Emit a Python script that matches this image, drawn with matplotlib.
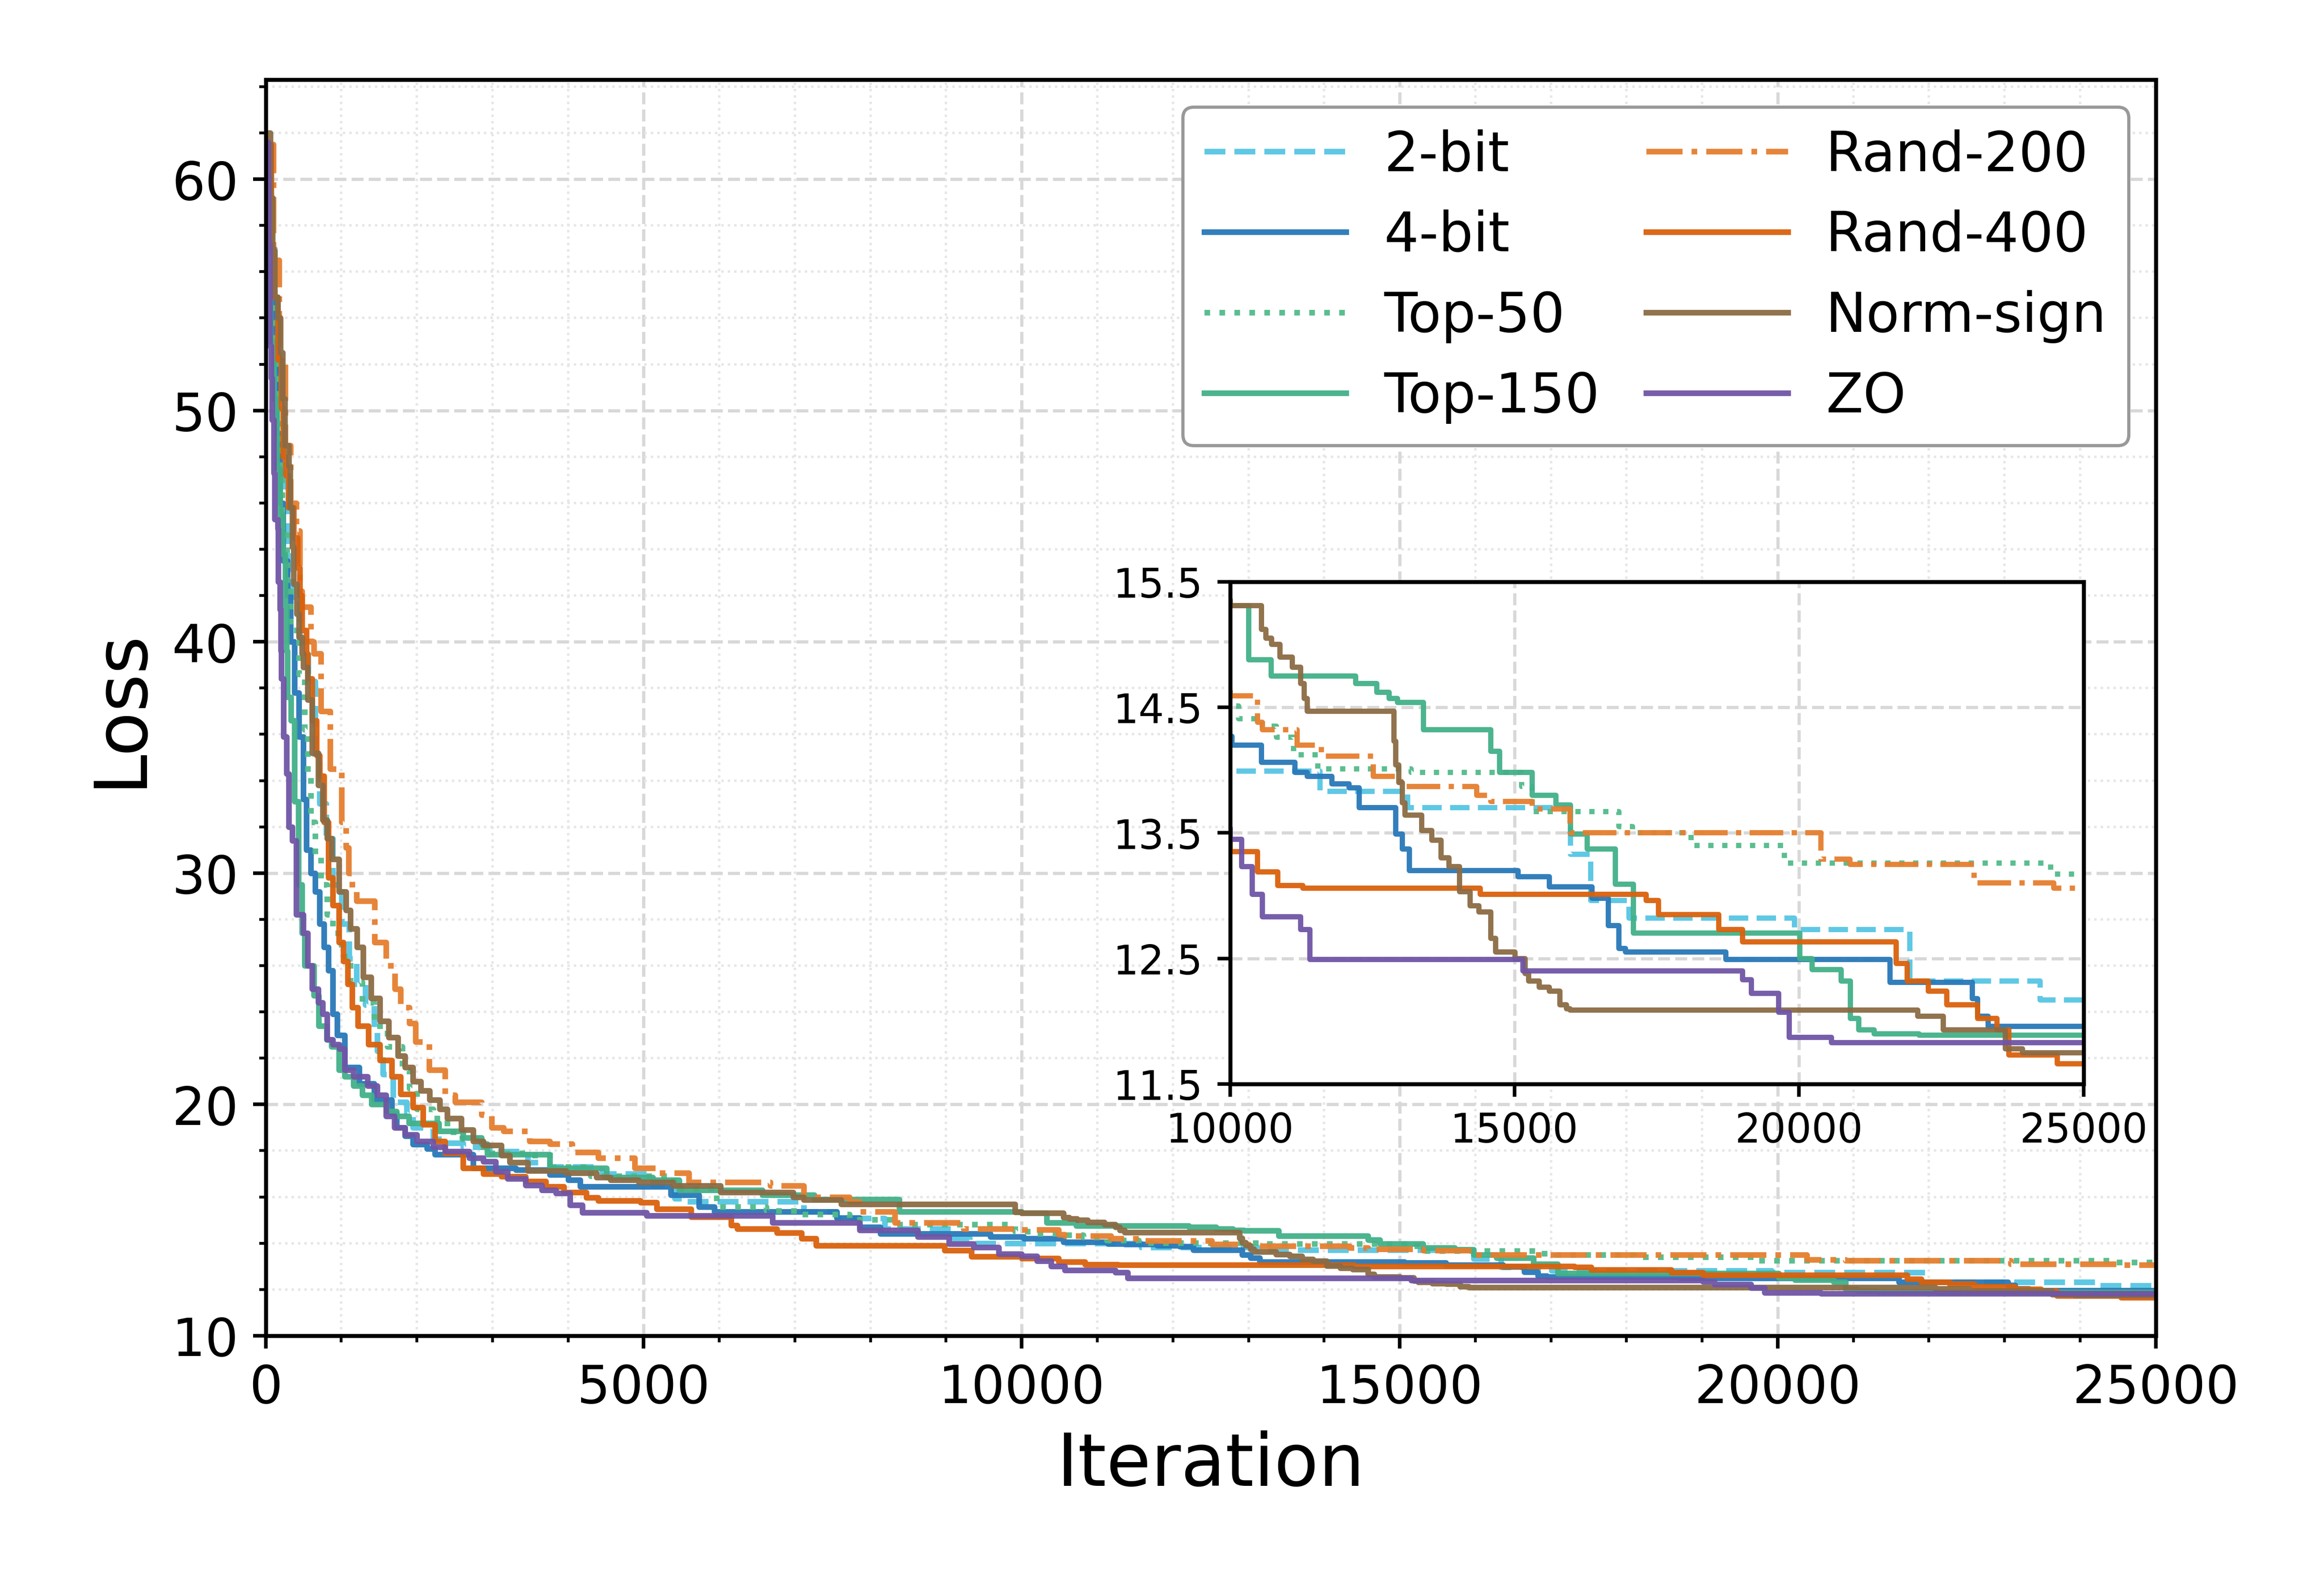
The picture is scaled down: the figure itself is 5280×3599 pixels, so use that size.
import matplotlib
matplotlib.use('Agg')
import matplotlib.pyplot as plt
from matplotlib.ticker import MultipleLocator

# series names / colours / line styles (legend order)
labels = ['2-bit', '4-bit', 'Top-50', 'Top-150', 'Rand-200', 'Rand-400', 'Norm-sign', 'ZO']
colors = ['#56c5e3', '#2878b8', '#52bb8a', '#42b088', '#e57f2f', '#d9610c', '#8b6b44', '#7055a6']
styles = ['--', '-', ':', '-', '-.', '-', '-', '-']

inset_yticks = [11.5, 12.5, 13.5, 14.5, 15.5]

# best loss so far (iteration where a step starts, new value)
it_2bit = [0, 60, 120, 180, 230, 300, 350, 450, 560, 655, 713, 800, 889, 1006, 1103, 1201, 1318, 1435,
           1474, 1552, 1688, 1863, 1950, 2213, 2373, 2613, 2960, 3467, 3760, 4453, 5120, 5413, 5573,
           7116, 7555, 8186, 9091, 9311, 11580, 13120, 15980, 16340, 17010, 19920, 21950, 24235, 25000]
loss_2bit = [61.0, 57.0, 53.5, 50.0, 46.5, 43.0, 41.8, 40.0, 38.3, 35.0, 33.0, 31.5, 29.5, 27.8, 26.3, 25.2,
             24.3, 23.3, 22.3, 21.3, 20.1, 19.6, 19.0, 18.5, 18.34, 18.16, 17.98, 17.5, 17.3, 17.0, 16.5,
             15.94, 15.8, 15.36, 15.08, 14.63, 14.23, 13.99, 13.83, 13.70, 13.33, 12.96, 12.82, 12.73,
             12.32, 12.17, 12.17]

it_4bit = [0, 50, 100, 150, 190, 230, 290, 330, 382, 441, 499, 538, 597, 655, 713, 772, 830, 889, 947,
           1045, 1240, 1435, 1669, 1733, 1840, 1947, 2133, 2240, 2747, 3307, 3760, 4000, 4160, 5360,
           5733, 5937, 7555, 7857, 8131, 9585, 10030, 10550, 11140, 11360, 11790, 12090, 12270, 12915,
           13025, 13150, 15065, 15610, 16365, 16645, 16830, 16950, 18710, 21600, 23045, 23140, 23325, 25000]
loss_4bit = [61.0, 57.0, 53.0, 49.0, 46.0, 43.5, 42.0, 40.0, 37.8, 35.9, 33.2, 31.0, 30.0, 29.2, 27.8,
             26.8, 25.8, 23.9, 23.0, 21.6, 20.9, 20.2, 19.6, 19.0, 18.63, 18.27, 18.09, 17.83, 17.25,
             17.18, 16.96, 16.74, 16.45, 16.09, 15.58, 15.36, 15.1, 14.7, 14.42, 14.27, 14.20, 14.06,
             13.98, 13.95, 13.89, 13.86, 13.70, 13.49, 13.37, 13.20, 13.15, 13.07, 12.98, 12.76, 12.58,
             12.55, 12.49, 12.31, 12.18, 12.04, 11.96, 11.96]

it_top50 = [0, 60, 120, 170, 220, 280, 330, 441, 518, 557, 596, 655, 733, 811, 889, 1006, 1123, 1279,
            1435, 1610, 1805, 1900, 2000, 2213, 2400, 2600, 2880, 3500, 3800, 4300, 5400, 5900, 5964,
            6623, 7062, 7720, 8323, 9914, 10150, 10570, 10815, 11120, 11545, 13180, 15125, 15310,
            16830, 17070, 18100, 19740, 24420, 25000]
loss_top50 = [60.0, 56.0, 52.5, 48.5, 45.0, 42.5, 40.5, 38.6, 36.2, 34.2, 32.2, 30.8, 29.5, 28.2, 27.4,
              26.4, 25.3, 24.4, 23.4, 22.5, 21.5, 20.7, 19.8, 19.4, 18.8, 18.5, 17.9, 17.8, 17.3, 16.9,
              16.35, 16.1, 15.58, 15.4, 15.25, 15.03, 14.81, 14.51, 14.41, 14.35, 14.26, 14.12, 14.01,
              13.98, 13.87, 13.67, 13.55, 13.50, 13.40, 13.26, 13.17, 13.17]

it_top150 = [0, 20, 60, 110, 150, 190, 226, 260, 275, 290, 333, 382, 431, 480, 518, 636, 704, 806, 869,
             967, 1045, 1162, 1279, 1400, 1600, 1733, 1893, 2293, 2613, 2853, 2933, 3760, 4507, 5120,
             5467, 6568, 7254, 8378, 10000, 10330, 10720, 12210, 12575, 12795, 12940, 13400, 14580,
             14740, 15310, 15730, 15980, 16280, 16770, 17090, 20010, 20230, 20740, 20900, 21050, 21320,
             22110, 25000]
loss_top150 = [57.3, 55.6, 53.0, 50.5, 47.5, 45.5, 43.8, 41.5, 39.6, 37.6, 36.6, 33.1, 29.5, 27.4, 26.0,
               24.7, 23.4, 22.8, 22.5, 21.5, 21.2, 20.8, 20.4, 20.0, 19.7, 19.5, 19.18, 18.85, 18.56,
               18.3, 17.83, 17.25, 16.85, 16.74, 16.3, 16.09, 15.9, 15.36, 15.31, 14.88, 14.75, 14.69,
               14.62, 14.57, 14.54, 14.32, 14.15, 13.98, 13.80, 13.72, 13.49, 13.37, 13.09, 12.70, 12.50,
               12.41, 12.32, 12.02, 11.93, 11.90, 11.89, 11.89]

it_rand200 = [0, 100, 180, 260, 330, 402, 450, 480, 597, 640, 730, 850, 1006, 1064, 1100, 1142, 1200,
              1440, 1591, 1707, 1785, 1900, 1980, 2160, 2373, 2507, 2853, 2987, 3147, 3493, 3760, 4053,
              4400, 4880, 5200, 5600, 6677, 7116, 7720, 7857, 8323, 9229, 10000, 10485, 10570, 11180,
              11600, 12515, 13000, 14335, 14580, 15310, 15975, 20385, 20895, 23080, 24480, 25000]
loss_rand200 = [61.5, 56.5, 52.0, 48.5, 46.0, 44.8, 42.2, 41.5, 40.0, 39.5, 37.0, 34.5, 32.2, 31.1,
                30.0, 29.3, 28.8, 27.0, 26.0, 25.0, 24.2, 23.5, 22.7, 21.5, 20.4, 20.1, 19.55, 19.0,
                18.85, 18.4, 18.3, 17.94, 17.69, 17.25, 17.03, 16.63, 16.49, 16.0, 15.8, 15.36, 14.89,
                14.63, 14.59, 14.38, 14.32, 14.20, 14.11, 13.95, 13.87, 13.80, 13.75, 13.69, 13.50,
                13.29, 13.25, 13.10, 13.06, 13.06]

it_rand400 = [0, 70, 110, 158, 207, 230, 265, 300, 370, 421, 450, 480, 540, 557, 616, 674, 713, 772,
              830, 889, 967, 1025, 1084, 1142, 1220, 1357, 1513, 1668, 1787, 1947, 2080, 2240, 2373,
              2613, 2880, 3120, 3440, 3707, 3947, 4240, 4400, 4960, 5173, 5627, 6156, 6239, 6760,
              7089, 7281, 8982, 9338, 10000, 10485, 10840, 11275, 14400, 17310, 17530, 18590, 19010,
              21710, 21900, 22270, 22595, 23140, 23480, 23690, 24540, 25000]
loss_rand400 = [61.5, 57.0, 54.9, 52.2, 50.1, 48.0, 47.2, 45.8, 44.5, 43.2, 42.0, 40.5, 39.5, 38.4,
                36.6, 35.1, 34.2, 32.2, 29.8, 28.6, 27.0, 26.2, 25.2, 24.2, 23.4, 22.6, 21.9, 21.2,
                20.45, 19.87, 19.14, 18.4, 17.9, 17.25, 17.0, 16.89, 16.67, 16.45, 16.2, 15.98, 15.83,
                15.76, 15.47, 15.14, 14.78, 14.63, 14.45, 14.2, 13.9, 13.69, 13.43, 13.35, 13.19, 13.08,
                13.06, 13.01, 12.96, 12.85, 12.73, 12.63, 12.46, 12.32, 12.24, 12.13, 12.02, 11.93,
                11.73, 11.66, 11.66]

it_normsign = [0, 61, 90, 119, 158, 197, 226, 255, 304, 324, 353, 372, 411, 441, 480, 499, 557, 616,
               694, 753, 811, 879, 967, 1064, 1123, 1210, 1288, 1395, 1513, 1629, 1750, 1840, 1950,
               2050, 2170, 2300, 2400, 2587, 2747, 2880, 3120, 3227, 3467, 3973, 4373, 4560, 4933,
               5387, 6019, 6979, 7116, 7610, 9914, 10000, 10550, 10630, 10730, 10875, 11095, 11240,
               11300, 11360, 12880, 12915, 12965, 13025, 13075, 13365, 13545, 13705, 13850, 14035,
               14215, 14375, 14580, 14665, 15005, 15185, 15245, 15430, 15610, 15795, 15915, 15975,
               22085, 22535, 23630, 23930, 25000]
loss_normsign = [62.0, 59.2, 56.9, 54.9, 54.0, 52.5, 50.5, 48.5, 47.6, 45.8, 44.1, 42.5, 41.2, 40.2,
                 39.5, 38.9, 37.5, 35.2, 33.8, 32.3, 31.5, 30.6, 29.2, 28.4, 27.6, 26.8, 25.5, 24.6,
                 23.6, 22.9, 22.1, 21.6, 21.0, 20.6, 20.2, 19.8, 19.4, 18.9, 18.4, 18.23, 17.8, 17.5,
                 17.14, 17.03, 16.85, 16.74, 16.63, 16.49, 16.2, 16.0, 15.87, 15.69, 15.35, 15.31,
                 15.12, 15.05, 15.00, 14.90, 14.82, 14.69, 14.57, 14.47, 14.23, 14.04, 13.90, 13.74,
                 13.64, 13.52, 13.44, 13.30, 13.23, 13.03, 12.92, 12.87, 12.66, 12.55, 12.50, 12.38,
                 12.32, 12.27, 12.24, 12.13, 12.10, 12.09, 12.04, 11.93, 11.78, 11.75, 11.75]

it_zo = [0, 30, 40, 55, 70, 85, 105, 120, 158, 168, 187, 200, 207, 236, 275, 304, 353, 402, 499, 557,
         616, 694, 753, 811, 889, 977, 1045, 1162, 1347, 1474, 1590, 1700, 1840, 2000, 2213, 2373,
         2693, 2880, 3040, 3200, 3440, 3653, 3840, 4027, 4187, 5040, 6705, 7857, 8625, 9037, 9366,
         9695, 10000, 10205, 10390, 10570, 11240, 11400, 15150, 19010, 19160, 19645, 19825, 20570, 25000]
loss_zo = [61.6, 60.1, 57.2, 52.8, 51.4, 49.6, 47.3, 45.3, 44.9, 42.6, 41.4, 39.6, 38.4, 35.9, 34.3,
           32.0, 31.4, 28.2, 27.4, 26.0, 25.0, 24.4, 23.9, 22.8, 22.6, 22.4, 21.5, 21.2, 20.8, 20.4,
           19.5, 19.0, 18.7, 18.4, 18.16, 17.98, 17.69, 17.54, 17.1, 16.8, 16.5, 16.3, 16.16, 15.65,
           15.32, 15.2, 14.89, 14.56, 14.27, 13.98, 13.83, 13.54, 13.45, 13.23, 13.01, 12.83, 12.73,
           12.49, 12.40, 12.33, 12.22, 12.07, 11.87, 11.83, 11.83]

iters = [it_2bit, it_4bit, it_top50, it_top150, it_rand200, it_rand400, it_normsign, it_zo]
losses = [loss_2bit, loss_4bit, loss_top50, loss_top150, loss_rand200, loss_rand400, loss_normsign, loss_zo]


def style_axes(ax, lw):
    for sp in ax.spines.values():
        sp.set_linewidth(lw)
        sp.set_color('black')


fig = plt.figure(figsize=(8, 5.4545), dpi=660)
ax = fig.add_axes([0.1143, 0.1567, 0.8133, 0.7927])

for x, y, lab, c, ls in zip(iters, losses, labels, colors, styles):
    ax.step(x, y, where='post', color=c, linestyle=ls, linewidth=1.4, alpha=0.95, label=lab)

ax.set_xlim(0, 25000)
ax.set_ylim(10, 64.3)
ax.xaxis.set_major_locator(MultipleLocator(5000))
ax.xaxis.set_minor_locator(MultipleLocator(1000))
ax.yaxis.set_major_locator(MultipleLocator(10))
ax.yaxis.set_minor_locator(MultipleLocator(2))
ax.tick_params(which='major', labelsize=13, length=3.2, width=0.9)
ax.tick_params(which='minor', length=1.6, width=0.7)
ax.grid(which='major', linestyle='--', color='#d8d8d8', linewidth=0.8)
ax.grid(which='minor', linestyle=':', color='#e6e6e6', linewidth=0.6)
ax.set_axisbelow(True)
ax.set_xlabel('Iteration', fontsize=18)
ax.set_ylabel('Loss', fontsize=18)
style_axes(ax, 1.0)

leg = ax.legend(ncol=2, loc='upper right', fontsize=13.5, handlelength=2.6, handletextpad=0.7,
                columnspacing=0.85, framealpha=1.0, edgecolor='#999999', fancybox=True,
                borderaxespad=0.5)
leg.get_frame().set_linewidth(0.8)

# zoomed inset for the tail
axin = fig.add_axes([0.5293, 0.3156, 0.3672, 0.317])
for x, y, c, ls in zip(iters, losses, colors, styles):
    axin.step(x, y, where='post', color=c, linestyle=ls, linewidth=1.3, alpha=0.95)
axin.set_xlim(10000, 25000)
axin.set_ylim(11.5, 15.5)
axin.xaxis.set_major_locator(MultipleLocator(5000))
axin.set_yticks(inset_yticks)
axin.tick_params(which='major', labelsize=10, length=3.2, width=0.9)
axin.grid(which='major', linestyle='--', color='#d8d8d8', linewidth=0.8)
axin.set_axisbelow(True)
style_axes(axin, 1.0)

fig.savefig('out.png', dpi=660)
